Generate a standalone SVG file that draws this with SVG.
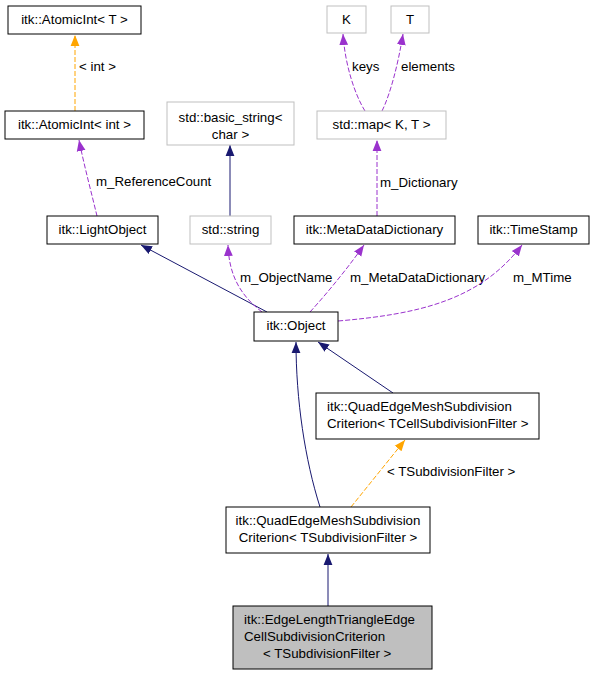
<svg xmlns="http://www.w3.org/2000/svg" width="593" height="675" viewBox="0 0 593 675">
<style>
text{font-family:"Liberation Sans",Arial,sans-serif;font-size:13.3px;fill:#000}
.n{fill:#fff;stroke:#000;stroke-width:1}
.g{fill:#fff;stroke:#bfbfbf;stroke-width:1}
.c{text-anchor:middle}
.nv{fill:none;stroke:#191970;stroke-width:1}
.pu{fill:none;stroke:#9a32cd;stroke-width:1;stroke-dasharray:5,2}
.or{fill:none;stroke:#ffa500;stroke-width:1;stroke-dasharray:5,2}
</style>
<defs>
<marker id="aN" viewBox="0 0 10 10" refX="10" refY="5" markerWidth="11" markerHeight="11" markerUnits="userSpaceOnUse" orient="auto"><path d="M0,1 L10,5 L0,9 Z" fill="#191970"/></marker>
<marker id="aP" viewBox="0 0 10 10" refX="10" refY="5" markerWidth="11" markerHeight="11" markerUnits="userSpaceOnUse" orient="auto"><path d="M0,1 L10,5 L0,9 Z" fill="#9a32cd"/></marker>
<marker id="aO" viewBox="0 0 10 10" refX="10" refY="5" markerWidth="11" markerHeight="11" markerUnits="userSpaceOnUse" orient="auto"><path d="M0,1 L10,5 L0,9 Z" fill="#ffa500"/></marker>
</defs>
<g id="edges">
<path class="or" d="M75,111 L75,35" marker-end="url(#aO)"/>
<text x="79" y="71">&lt; int &gt;</text>
<path class="pu" d="M97,216 C92,195 84,165 79,140" marker-end="url(#aP)"/>
<text x="96" y="186">m_ReferenceCount</text>
<path class="nv" d="M230,216 L230,145" marker-end="url(#aN)"/>
<path class="nv" d="M267,312 L141,245" marker-end="url(#aN)"/>
<path class="pu" d="M262,312 C240,295 229,275 228,245" marker-end="url(#aP)"/>
<text x="240" y="282">m_ObjectName</text>
<path class="pu" d="M310,312 C330,290 350,265 364,245" marker-end="url(#aP)"/>
<text x="350" y="282">m_MetaDataDictionary</text>
<path class="pu" d="M338,321 C420,314 480,300 522,245" marker-end="url(#aP)"/>
<text x="513" y="282">m_MTime</text>
<path class="pu" d="M377,216 L377,140" marker-end="url(#aP)"/>
<text x="380" y="187">m_Dictionary</text>
<path class="pu" d="M365,111 C355,95 345,65 343,34" marker-end="url(#aP)"/>
<text x="352" y="71">keys</text>
<path class="pu" d="M382,111 C390,95 398,65 403,34" marker-end="url(#aP)"/>
<text x="401" y="71">elements</text>
<path class="nv" d="M393,393 L318,342" marker-end="url(#aN)"/>
<path class="nv" d="M320,507 C305,460 296,400 296,342" marker-end="url(#aN)"/>
<path class="or" d="M351,507 L405,440" marker-end="url(#aO)"/>
<text x="387" y="476">&lt; TSubdivisionFilter &gt;</text>
<path class="nv" d="M328,606 L328,554" marker-end="url(#aN)"/>
</g>
<g id="AtomicIntT"><rect class="n" x="8" y="6" width="133" height="28"/><text class="c" x="74.5" y="24">itk::AtomicInt&lt; T &gt;</text></g>
<g id="AtomicIntInt"><rect class="n" x="5" y="111" width="139" height="28"/><text class="c" x="74.5" y="129">itk::AtomicInt&lt; int &gt;</text></g>
<g id="basicString"><rect class="g" x="167" y="102" width="127" height="43"/><text class="c" x="230.5" y="122">std::basic_string&lt;</text><text class="c" x="230.5" y="139">char &gt;</text></g>
<g id="K"><rect class="g" x="327" y="6" width="39" height="27"/><text class="c" x="346.5" y="24">K</text></g>
<g id="T"><rect class="g" x="391" y="6" width="38" height="27"/><text class="c" x="410" y="24">T</text></g>
<g id="stdMap"><rect class="g" x="317" y="111" width="129" height="28"/><text class="c" x="381.5" y="129">std::map&lt; K, T &gt;</text></g>
<g id="LightObject"><rect class="n" x="47" y="216" width="111" height="28"/><text class="c" x="102.5" y="234">itk::LightObject</text></g>
<g id="stdString"><rect class="g" x="190" y="216" width="81" height="28"/><text class="c" x="230.5" y="234">std::string</text></g>
<g id="MetaDataDictionary"><rect class="n" x="294" y="216" width="161" height="28"/><text class="c" x="374.5" y="234">itk::MetaDataDictionary</text></g>
<g id="TimeStamp"><rect class="n" x="478" y="216" width="111" height="28"/><text class="c" x="533.5" y="234">itk::TimeStamp</text></g>
<g id="Object"><rect class="n" x="254" y="312" width="84" height="29"/><text class="c" x="296" y="330">itk::Object</text></g>
<g id="QuadCell"><rect class="n" x="316" y="393" width="223" height="46"/><text x="327" y="411">itk::QuadEdgeMeshSubdivision</text><text x="327" y="428">Criterion&lt; TCellSubdivisionFilter &gt;</text></g>
<g id="QuadSub"><rect class="n" x="226" y="507" width="204" height="46"/><text class="c" x="328" y="525">itk::QuadEdgeMeshSubdivision</text><text class="c" x="328" y="542">Criterion&lt; TSubdivisionFilter &gt;</text></g>
<g id="EdgeLength"><rect x="233" y="606" width="199" height="63" fill="#bfbfbf" stroke="#000"/><text x="244" y="624">itk::EdgeLengthTriangleEdge</text><text x="244" y="641">CellSubdivisionCriterion</text><text x="263" y="658">&lt; TSubdivisionFilter &gt;</text></g>
</svg>
